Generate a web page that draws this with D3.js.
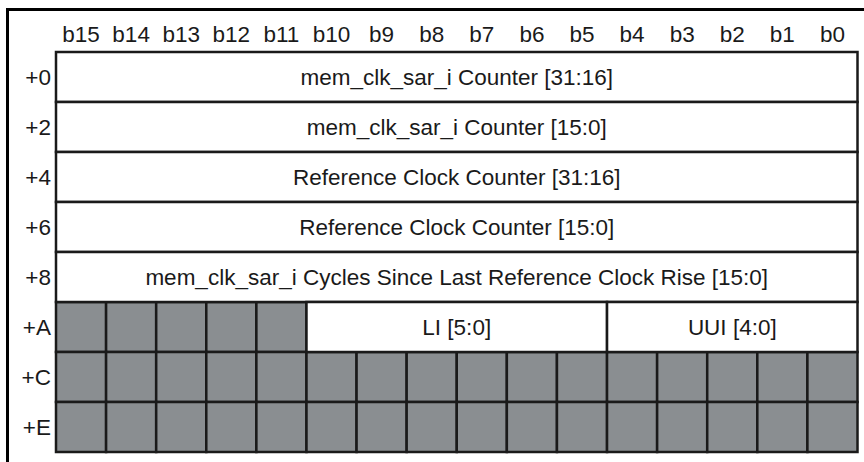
<!DOCTYPE html>
<html><head><meta charset="utf-8">
<script src="https://cdn.jsdelivr.net/npm/d3@7/dist/d3.min.js"></script>
<style>html,body{margin:0;padding:0;background:#fff;}svg{display:block;}</style>
</head><body>
<script>
const bitLabels = ["b15","b14","b13","b12","b11","b10","b9","b8","b7","b6","b5","b4","b3","b2","b1","b0"];
const offsets = ["+0","+2","+4","+6","+8","+A","+C","+E"];
const fieldRows = ["+0","+2","+4","+6","+8","+A","+A"];
const fieldNames = ["mem_clk_sar_i Counter [31:16]","mem_clk_sar_i Counter [15:0]","Reference Clock Counter [31:16]","Reference Clock Counter [15:0]","mem_clk_sar_i Cycles Since Last Reference Clock Rise [15:0]","LI [5:0]","UUI [4:0]"];
const fieldMsb = [15,15,15,15,15,10,4];
const fieldLsb = [0,0,0,0,0,5,0];
const reservedRows = ["+A","+C","+E"];
const reservedMsb = [15,15,15];
const reservedLsb = [11,0,0];

const W=864,H=462;
const svg=d3.select("body").append("svg").attr("width",W).attr("height",H);
const x=d3.scaleLinear().domain([16,0]).range([56,857.5]);
const y=d3.scaleBand().domain(offsets).range([52,452]).padding(0);
const ink="#1a1a1a", gray="#8a8e91";
const font="'Liberation Sans', Arial, Helvetica, sans-serif";
const fs=22.5;

// outer frame (cropped)
svg.append("line").attr("x1",7.5).attr("x2",7.5).attr("y1",8).attr("y2",H).attr("stroke","#000").attr("stroke-width",3);
svg.append("line").attr("x1",6).attr("x2",W).attr("y1",9.5).attr("y2",9.5).attr("stroke","#000").attr("stroke-width",3);

// reserved cells
const cells=[];
reservedRows.forEach((r,i)=>{for(let b=reservedMsb[i];b>=reservedLsb[i];b--)cells.push({r,b});});
svg.append("g").selectAll("rect").data(cells).join("rect")
  .attr("x",d=>x(d.b+1)).attr("y",d=>y(d.r)).attr("width",d=>x(d.b)-x(d.b+1)).attr("height",y.bandwidth())
  .attr("fill",gray).attr("stroke",ink).attr("stroke-width",2.5);

// fields
const fields=fieldNames.map((n,i)=>({n,r:fieldRows[i],m:fieldMsb[i],l:fieldLsb[i]}));
const g=svg.append("g");
g.selectAll("rect").data(fields).join("rect")
  .attr("x",d=>x(d.m+1)).attr("y",d=>y(d.r)).attr("width",d=>x(d.l)-x(d.m+1)).attr("height",y.bandwidth())
  .attr("fill","#fff").attr("stroke",ink).attr("stroke-width",2.5);
g.selectAll("text").data(fields).join("text")
  .attr("x",d=>(x(d.l)+x(d.m+1))/2).attr("y",d=>y(d.r)+y.bandwidth()/2)
  .attr("text-anchor","middle").attr("dominant-baseline","central")
  .attr("font-family",font).attr("font-size",fs).attr("fill",ink).text(d=>d.n);

// bit labels
svg.append("g").selectAll("text").data(bitLabels).join("text")
  .attr("x",(d,i)=>(x(15-i)+x(16-i))/2).attr("y",34)
  .attr("text-anchor","middle").attr("dominant-baseline","central")
  .attr("font-family",font).attr("font-size",fs).attr("fill",ink).text(d=>d);

// offsets
svg.append("g").selectAll("text").data(offsets).join("text")
  .attr("x",51).attr("y",d=>y(d)+y.bandwidth()/2)
  .attr("text-anchor","end").attr("dominant-baseline","central")
  .attr("font-family",font).attr("font-size",fs).attr("fill",ink).text(d=>d);
</script>
</body></html>
